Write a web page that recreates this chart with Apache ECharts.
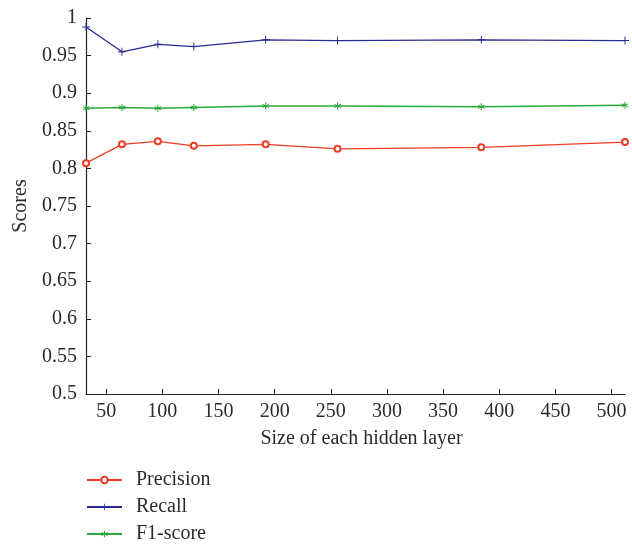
<!DOCTYPE html>
<html><head><meta charset="utf-8">
<script src="https://cdn.jsdelivr.net/npm/echarts@6/dist/echarts.min.js"></script>
<style>html,body{margin:0;padding:0;background:#fff}#c{width:632px;height:546px}</style>
</head><body><div id="c"></div>
<script>
const sizes = [32, 64, 96, 128, 192, 256, 384, 512];
const precision = [0.807, 0.832, 0.836, 0.830, 0.832, 0.826, 0.828, 0.835];
const recall = [0.988, 0.955, 0.965, 0.962, 0.971, 0.970, 0.971, 0.970];
const f1 = [0.880, 0.881, 0.880, 0.881, 0.883, 0.883, 0.882, 0.884];
const xTicks = [50, 100, 150, 200, 250, 300, 350, 400, 450, 500];
const seriesNames = ['Precision', 'Recall', 'F1-score'];

const font = 'Liberation Serif';
const plus = 'path://M-0.12,-1H0.12V-0.12H1V0.12H0.12V1H-0.12V0.12H-1V-0.12H-0.12Z';
const star = 'path://M-0.15,-1H0.15V-0.2L0.8,-0.6L0.95,-0.35L0.3,0L0.95,0.35L0.8,0.6L0.15,0.2V1H-0.15V0.2L-0.8,0.6L-0.95,0.35L-0.3,0L-0.95,-0.35L-0.8,-0.6L-0.15,-0.2Z';
const pair = a => sizes.map((s, i) => [s, a[i]]);

const chart = echarts.init(document.getElementById('c'));
chart.setOption({
  animation: false,
  textStyle: { fontFamily: font },
  grid: { left: 86, right: 7, top: 18, bottom: 152 },
  legend: {
    orient: 'vertical', left: 86, top: 470, padding: 0, itemWidth: 35, itemHeight: 8, itemGap: 7,
    textStyle: { fontFamily: font, fontSize: 20, color: '#2a2a2a', padding: [0, 0, 0, 9] },
    data: seriesNames
  },
  xAxis: {
    type: 'value', min: 32, max: 512,
    name: 'Size of each hidden layer', nameLocation: 'middle', nameGap: 35,
    nameTextStyle: { fontFamily: font, fontSize: 20, color: '#2a2a2a', padding: [0, 0, 0, 12] },
    axisLine: { lineStyle: { color: '#222', width: 1.2 } },
    axisTick: { inside: true, length: 5, customValues: xTicks, lineStyle: { color: '#222' } },
    axisLabel: { customValues: xTicks, fontFamily: font, fontSize: 20, color: '#2a2a2a', margin: 8 },
    splitLine: { show: false }
  },
  yAxis: {
    type: 'value', min: 0.5, max: 1, interval: 0.05,
    name: 'Scores', nameLocation: 'middle', nameGap: 55, nameRotate: 90,
    nameTextStyle: { fontFamily: font, fontSize: 20, color: '#2a2a2a' },
    axisLine: { show: true, lineStyle: { color: '#222', width: 1.2 } },
    axisTick: { show: true, inside: true, length: 5, lineStyle: { color: '#222' } },
    axisLabel: { fontFamily: font, fontSize: 20, color: '#2a2a2a', margin: 9 },
    splitLine: { show: false }
  },
  series: [
    { name: seriesNames[0], type: 'line', data: pair(precision), color: '#ee3d25',
      symbol: 'emptyCircle', symbolSize: 6, lineStyle: { width: 1.3 }, itemStyle: { borderWidth: 1.3 } },
    { name: seriesNames[1], type: 'line', data: pair(recall), color: '#2a2a96',
      symbol: plus, symbolSize: 8, lineStyle: { width: 1.3 } },
    { name: seriesNames[2], type: 'line', data: pair(f1), color: '#2ca83a',
      symbol: star, symbolSize: 7, lineStyle: { width: 1.3 } }
  ]
});
</script></body></html>
